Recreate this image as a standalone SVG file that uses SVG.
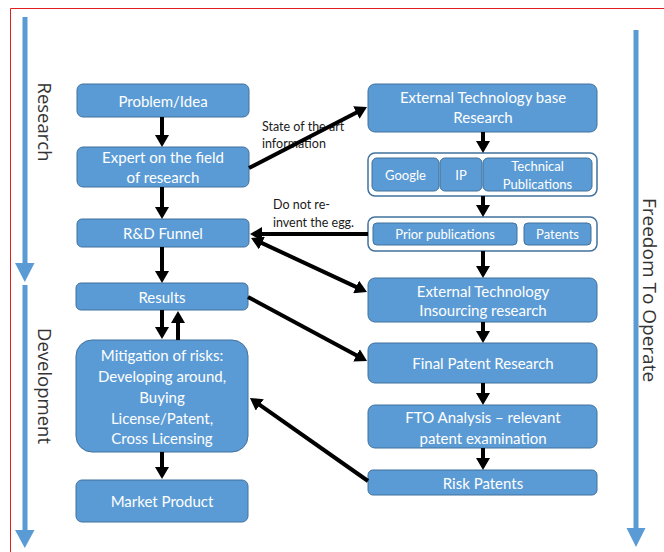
<svg xmlns="http://www.w3.org/2000/svg" width="664" height="552" viewBox="0 0 664 552">
<style>
.box{fill:#5B9BD5;stroke:#41719C;stroke-width:1}
.cont{fill:#ffffff;stroke:#41719C;stroke-width:1.5}
.t{font-family:Lato,"Open Sans","Liberation Sans",sans-serif;font-size:15px;fill:#ffffff;text-anchor:middle;dominant-baseline:central}
.ts{font-family:Lato,"Open Sans","Liberation Sans",sans-serif;font-size:13px;fill:#ffffff;text-anchor:middle;dominant-baseline:central}
.lbl{font-family:Lato,"Open Sans","Liberation Sans",sans-serif;font-size:12.5px;fill:#1a1a1a}
.side{font-family:"Open Sans","Noto Sans",sans-serif;font-size:18.5px;fill:#333333;text-anchor:middle}
.c{stroke:#000;stroke-width:4;fill:none;marker-end:url(#ah)}
.cb{stroke:#000;stroke-width:4;fill:none;marker-end:url(#ah);marker-start:url(#ah)}
.bl{stroke:#5B9BD5;stroke-width:5}
.blh{fill:#5B9BD5}
</style>
<defs>
<marker id="ah" markerUnits="userSpaceOnUse" markerWidth="14" markerHeight="14" refX="4" refY="7" orient="auto-start-reverse">
<path d="M0,0 L12,7 L0,14 Z" fill="#000"/>
</marker>
</defs>
<rect x="0" y="0" width="664" height="552" fill="#ffffff"/>
<path d="M10.5,552 V8.5 H664" fill="none" stroke="#E02020" stroke-width="1"/>

<g id="phase-arrows">
<line class="bl" x1="25" y1="17" x2="25" y2="265"/>
<path class="blh" d="M15,263 L34.5,263 L24.8,282 Z"/>
<line class="bl" x1="25" y1="285" x2="25" y2="532"/>
<path class="blh" d="M15,530 L34.5,530 L24.8,548 Z"/>
<line class="bl" x1="636" y1="30" x2="636" y2="530"/>
<path class="blh" d="M626.5,528 L645.5,528 L636,547 Z"/>
<text class="side" transform="translate(38,122) rotate(90)">Research</text>
<text class="side" transform="translate(38,386) rotate(90)">Development</text>
<text class="side" style="font-size:19px" transform="translate(643,290) rotate(90)">Freedom To Operate</text>
</g>

<g id="n-problem"><rect class="box" x="77" y="84" width="172" height="33" rx="6"/><text class="t" x="163" y="100.5">Problem/Idea</text></g>
<g id="n-expert"><rect class="box" x="77" y="147" width="172" height="40" rx="6"/><text class="t" x="163" y="157">Expert  on the field</text><text class="t" x="163" y="177">of research</text></g>
<g id="n-rd"><rect class="box" x="77" y="219" width="172" height="28" rx="5"/><text class="t" x="163" y="233">R&amp;D Funnel</text></g>
<g id="n-results"><rect class="box" x="76" y="283" width="172" height="27" rx="5"/><text class="t" x="162" y="296.5">Results</text></g>
<g id="n-mitigation"><rect class="box" x="76" y="340" width="172" height="112" rx="16"/>
<text class="t" x="162" y="355">Mitigation of risks:</text>
<text class="t" x="162" y="376">Developing around,</text>
<text class="t" x="162" y="397">Buying</text>
<text class="t" x="162" y="418">License/Patent,</text>
<text class="t" x="162" y="438">Cross Licensing</text></g>
<g id="n-market"><rect class="box" x="76" y="480" width="172" height="42" rx="6"/><text class="t" x="162" y="501">Market Product</text></g>

<g id="n-extbase"><rect class="box" x="368" y="84" width="229" height="48" rx="7"/><text class="t" x="483" y="97">External Technology base</text><text class="t" x="483" y="117">Research</text></g>
<g id="n-sources"><rect class="cont" x="368" y="153" width="229" height="43" rx="7"/>
<rect class="box" x="372" y="158" width="67" height="33" rx="5"/><text class="ts" x="405.5" y="174.5">Google</text>
<rect class="box" x="440" y="158" width="42" height="33" rx="5"/><text class="ts" x="461" y="174.5">IP</text>
<rect class="box" x="483" y="158" width="109" height="33" rx="5"/><text class="ts" x="537.5" y="166">Technical</text><text class="ts" x="537.5" y="184">Publications</text></g>
<g id="n-prior"><rect class="cont" x="368" y="217" width="229" height="34" rx="7"/>
<rect class="box" x="373" y="223" width="144" height="22" rx="4"/><text class="ts" x="445" y="234">Prior publications</text>
<rect class="box" x="524" y="223" width="67" height="22" rx="4"/><text class="ts" x="557.5" y="234">Patents</text></g>
<g id="n-insourcing"><rect class="box" x="368" y="278" width="229" height="44" rx="7"/><text class="t" x="483" y="291">External Technology</text><text class="t" x="483" y="310">Insourcing research</text></g>
<g id="n-final"><rect class="box" x="368" y="343" width="229" height="40" rx="7"/><text class="t" x="483" y="363">Final Patent Research</text></g>
<g id="n-fto"><rect class="box" x="368" y="405" width="229" height="43" rx="7"/><text class="t" x="483" y="417">FTO Analysis – relevant</text><text class="t" x="483" y="438">patent examination</text></g>
<g id="n-risk"><rect class="box" x="368" y="470" width="229" height="25" rx="5"/><text class="t" x="483" y="482.5">Risk Patents</text></g>

<g id="labels">
<text class="lbl" x="262" y="131">State of the art</text>
<text class="lbl" x="262" y="148">information</text>
<text class="lbl" x="273" y="209">Do not re-</text>
<text class="lbl" x="273" y="227">invent the egg.</text>
</g>

<g id="connectors">
<line class="c" x1="162" y1="117" x2="162" y2="139"/>
<line class="c" x1="162" y1="187" x2="162" y2="211"/>
<line class="c" x1="162" y1="247" x2="162" y2="275"/>
<line class="c" x1="162" y1="310" x2="162" y2="331"/>
<line class="c" x1="178" y1="340" x2="178" y2="319"/>
<line class="c" x1="162" y1="452" x2="162" y2="471"/>
<line class="c" x1="483" y1="132" x2="483" y2="145"/>
<line class="c" x1="483" y1="196" x2="483" y2="209"/>
<line class="c" x1="483" y1="251" x2="483" y2="270"/>
<line class="c" x1="483" y1="322" x2="483" y2="335"/>
<line class="c" x1="483" y1="383" x2="483" y2="397"/>
<line class="c" x1="483" y1="448" x2="483" y2="462"/>
<line class="c" x1="249" y1="168" x2="359.9" y2="110.7"/>
<line class="c" x1="368" y1="234" x2="258" y2="234"/>
<line class="cb" x1="258.3" y1="241.4" x2="359.7" y2="288.6"/>
<line class="c" x1="248" y1="297" x2="360" y2="357.2"/>
<line class="c" x1="368" y1="481" x2="256.5" y2="402.6"/>
</g>
</svg>
